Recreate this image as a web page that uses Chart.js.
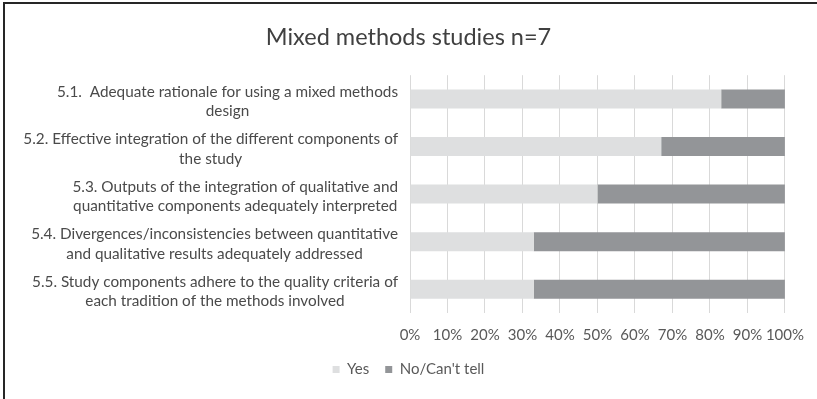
<!DOCTYPE html>
<html>
<head>
<meta charset="utf-8">
<script src="https://cdn.jsdelivr.net/npm/chart.js@4/dist/chart.umd.min.js"></script>
<style>
    body { margin: 0; background: #ffffff; }
    #contenedor { position: relative; width: 817px; height: 399px; }
    #marco { position: absolute; left: 3px; top: 2px; right: 0; bottom: 0;
             border-top: 2px solid #262626; border-left: 2px solid #262626; pointer-events: none; }
</style>
</head>
<body>
<div id="contenedor">
    <canvas id="myChart" width="817" height="399"></canvas>
    <div id="marco"></div>
</div>
<script>
// DATOS DEL GRAFICO
const categorias = [
    ["5.1.  Adequate rationale for using a mixed methods", "design"],
    ["5.2. Effective integration of the different components of", "the study"],
    ["5.3. Outputs of the integration of qualitative and", "quantitative components adequately interpreted"],
    ["5.4. Divergences/inconsistencies between quantitative", "and qualitative results adequately addressed"],
    ["5.5. Study components adhere to the quality criteria of", "each tradition of the methods involved"]
];
const valoresSi = [83, 67, 50, 33, 33];
const valoresNo = [17, 33, 50, 67, 67];
const nombresSeries = ["Yes", "No/Can't tell"];
const tituloGrafico = "Mixed methods studies n=7";

const fuente = "Lato, 'Liberation Sans', sans-serif";
const colorTexto = '#595959';

// ETIQUETAS DEL EJE Y (lineas centradas dentro de cada bloque, como en Excel)
const etiquetasEjeY = {
    id: 'etiquetasEjeY',
    afterDraw(chart) {
        const ctx = chart.ctx;
        const ejeY = chart.scales.y;
        const bordeDerecho = chart.chartArea.left - 12;
        const altoLinea = 19.5;
        ctx.save();
        ctx.font = "15.3px " + fuente;
        ctx.fillStyle = '#4a4a4a';
        ctx.textAlign = 'center';
        ctx.textBaseline = 'middle';
        categorias.forEach(function (lineas, i) {
            let ancho = 0;
            for (const linea of lineas) {
                ancho = Math.max(ancho, ctx.measureText(linea).width);
            }
            const centroX = bordeDerecho - ancho / 2;
            const centroY = ejeY.getPixelForValue(i) + 2.5;
            const inicioY = centroY - (lineas.length - 1) * altoLinea / 2;
            lineas.forEach(function (linea, j) {
                ctx.fillText(linea, centroX, inicioY + j * altoLinea);
            });
        });
        ctx.restore();
    }
};

document.addEventListener("DOMContentLoaded", function () {
    const canvas = document.getElementById('myChart');

    const data = {
        labels: categorias.map(c => c.join(' ')),
        datasets: [{
            label: nombresSeries[0],
            data: valoresSi,
            backgroundColor: '#dedfe0',
            barPercentage: 0.4,
            categoryPercentage: 1.0
        },
        {
            label: nombresSeries[1],
            data: valoresNo,
            backgroundColor: '#939598',
            barPercentage: 0.4,
            categoryPercentage: 1.0
        }]
    };

    new Chart(canvas, {
        type: 'bar',
        data: data,
        plugins: [etiquetasEjeY],
        options: {
            indexAxis: 'y',
            responsive: false,
            animation: false,
            layout: { padding: { top: 0, bottom: 12, left: 0, right: 0 } },
            scales: {
                x: {
                    stacked: true,
                    min: 0,
                    max: 100,
                    grid: { color: '#d9d9d9', drawTicks: false },
                    border: { display: false },
                    ticks: {
                        stepSize: 10,
                        padding: 13,
                        maxRotation: 0,
                        minRotation: 0,
                        autoSkip: false,
                        color: colorTexto,
                        font: { family: fuente, size: 15 },
                        callback: v => v + '%'
                    },
                    afterFit(scale) { scale.height = 33; }
                },
                y: {
                    stacked: true,
                    grid: { display: false },
                    border: { display: false },
                    ticks: { display: false },
                    afterFit(scale) { scale.width = 410; }
                },
                derecha: {
                    type: 'linear',
                    axis: 'y',
                    position: 'right',
                    grid: { display: false },
                    border: { display: false },
                    ticks: { display: false },
                    afterFit(scale) { scale.width = 28; }
                }
            },
            plugins: {
                title: {
                    display: true,
                    text: tituloGrafico,
                    color: '#404040',
                    font: { family: fuente, size: 23.5, weight: 'normal' },
                    padding: { top: 23, bottom: 24 }
                },
                legend: {
                    position: 'bottom',
                    labels: {
                        color: colorTexto,
                        font: { family: fuente, size: 15 },
                        boxWidth: 7,
                        boxHeight: 7,
                        padding: 16
                    }
                },
                tooltip: { enabled: false }
            }
        }
    });
});
</script>
</body>
</html>
